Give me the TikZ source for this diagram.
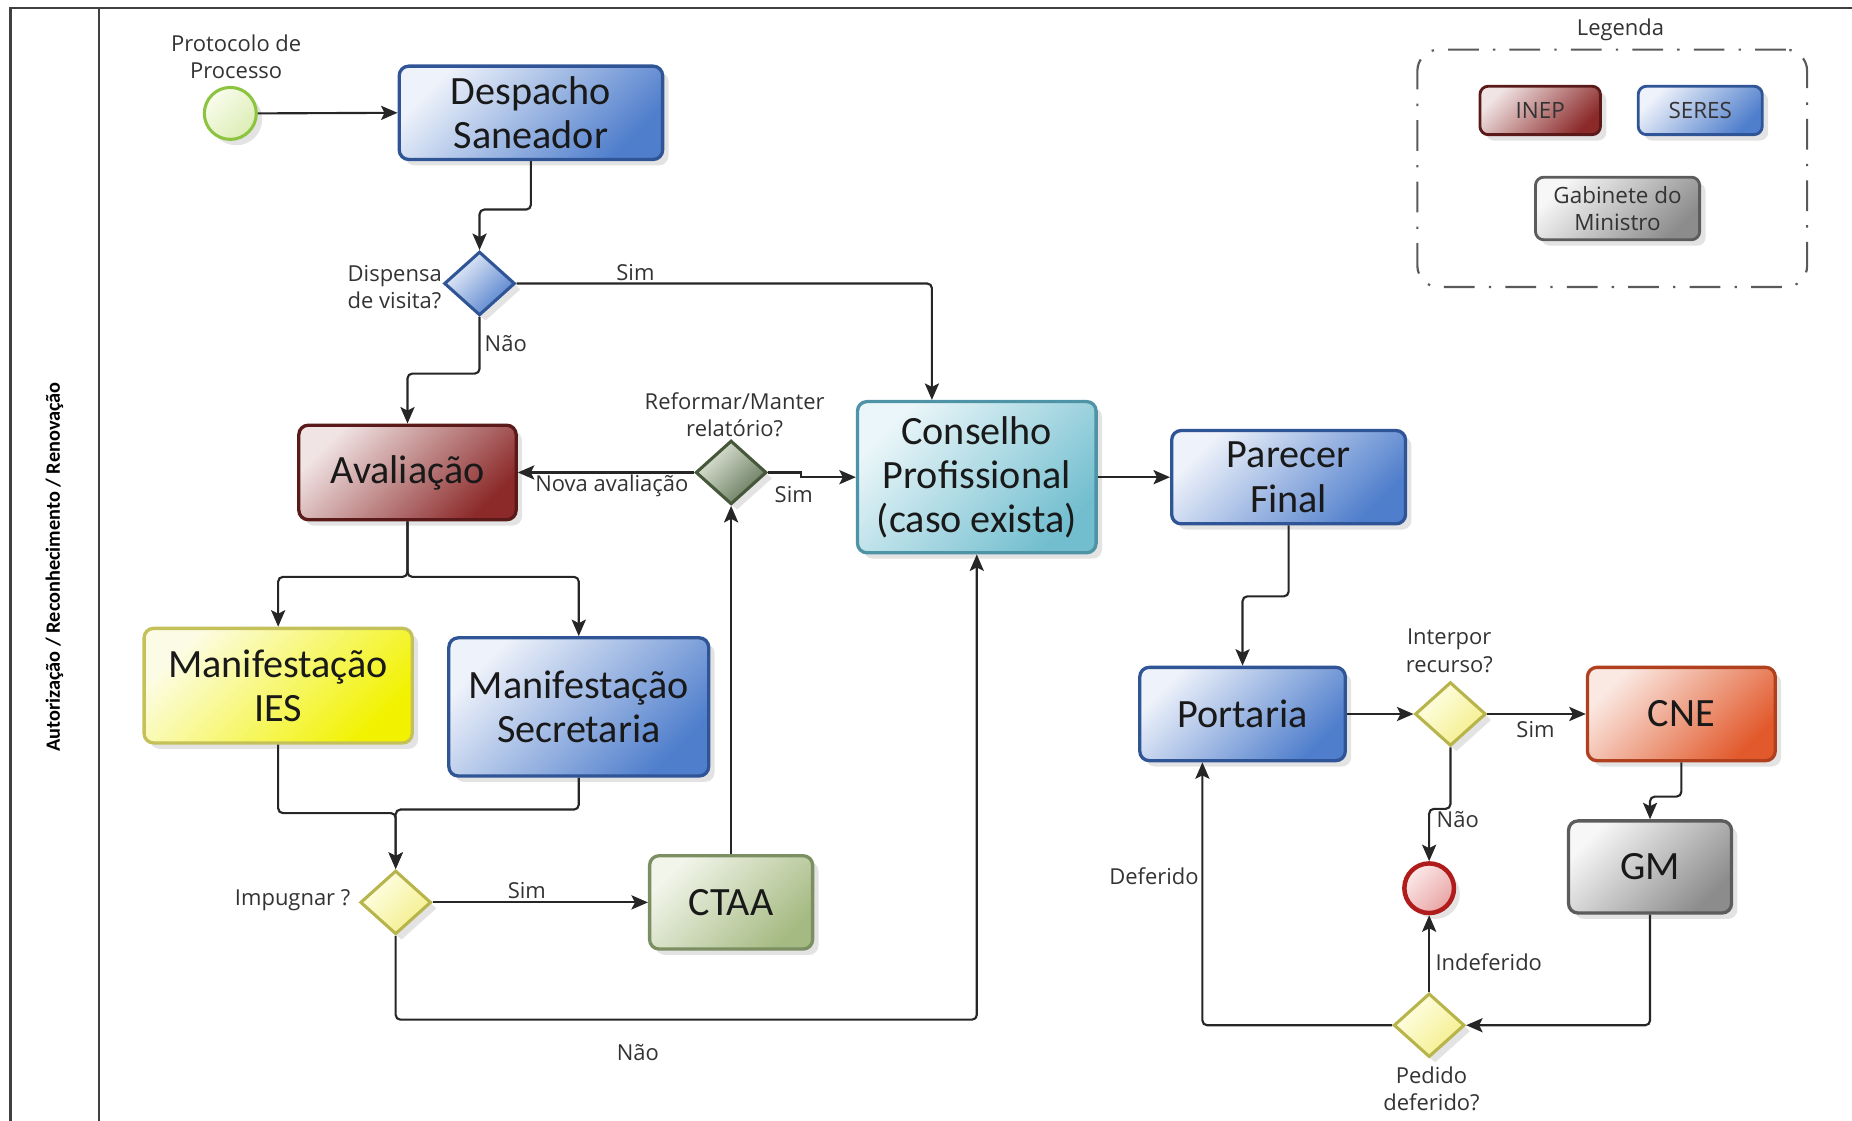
\documentclass[tikz,border=0pt]{standalone}
\usepackage{fontspec}
\setmainfont{Carlito}
\newfontfamily\lblfam{Open Sans}
\newfontfamily\boxfam{Carlito}
\usetikzlibrary{shapes.geometric, arrows.meta, shadows, calc}
\definecolor{blueL}{HTML}{EEF2FA}\definecolor{blueD}{HTML}{4F7ECC}\definecolor{blueB}{HTML}{2F5597}
\definecolor{redL}{HTML}{F1E4E4}\definecolor{redD}{HTML}{8C2A2A}\definecolor{redB}{HTML}{5A1A1A}
\definecolor{yelL}{HTML}{FCFCE6}\definecolor{yelD}{HTML}{F2F200}\definecolor{yelB}{HTML}{C4C05A}
\definecolor{cyL}{HTML}{EAF6F9}\definecolor{cyD}{HTML}{72BECF}\definecolor{cyB}{HTML}{4E93A6}
\definecolor{grL}{HTML}{F2F5EA}\definecolor{grD}{HTML}{A5BA82}\definecolor{grB}{HTML}{7B8F62}
\definecolor{orL}{HTML}{FAE9E3}\definecolor{orD}{HTML}{E2592B}\definecolor{orB}{HTML}{B0401E}
\definecolor{gyL}{HTML}{F7F7F7}\definecolor{gyD}{HTML}{8C8C8C}\definecolor{gyB}{HTML}{5C5C5C}
\definecolor{dgL}{HTML}{E4E9DC}\definecolor{dgD}{HTML}{62765A}\definecolor{dgB}{HTML}{46573A}
\definecolor{dyL}{HTML}{FFFFE8}\definecolor{dyD}{HTML}{F3EE8A}\definecolor{dyB}{HTML}{B8B44C}
\definecolor{stL}{HTML}{F9FCEC}\definecolor{stD}{HTML}{DCEDB5}\definecolor{stB}{HTML}{8CC43F}
\definecolor{enL}{HTML}{FCEAEA}\definecolor{enD}{HTML}{E9A3A3}\definecolor{enB}{HTML}{B01C1C}
\definecolor{txt}{HTML}{333333}
\newcommand\boxfont{\boxfam\fontsize{17}{18.7}\selectfont}
\newcommand\lblfont{\lblfam\fontsize{9.3}{11.5}\selectfont}
\newcommand\legfont{\lblfam\fontsize{9.5}{11.5}\selectfont}
\tikzset{
  shad/.style={drop shadow={opacity=0.22, shadow xshift=2.5pt, shadow yshift=-2.5pt}},
  box/.style={rectangle, rounded corners=4pt, line width=1.4pt, align=center, font=\boxfont, text=black!90, inner sep=2pt, shad},
  bluebox/.style={box, top color=blueL, bottom color=blueD, shading angle=45, draw=blueB},
  redbox/.style={box, top color=redL, bottom color=redD, shading angle=45, draw=redB},
  yelbox/.style={box, top color=yelL, bottom color=yelD, shading angle=45, draw=yelB},
  cybox/.style={box, top color=cyL, bottom color=cyD, shading angle=45, draw=cyB},
  grbox/.style={box, top color=grL, bottom color=grD, shading angle=45, draw=grB},
  orbox/.style={box, top color=orL, bottom color=orD, shading angle=45, draw=orB},
  gybox/.style={box, top color=gyL, bottom color=gyD, shading angle=45, draw=gyB},
  gate/.style={diamond, minimum width=30pt, minimum height=27pt, inner sep=0pt, line width=1.3pt, shad},
  bluegate/.style={gate, top color=blueL, bottom color=blueD, shading angle=45, draw=blueB},
  dggate/.style={gate, top color=dgL, bottom color=dgD, shading angle=45, draw=dgB},
  yelgate/.style={gate, top color=dyL, bottom color=dyD, shading angle=45, draw=dyB},
  lbl/.style={font=\lblfont, text=txt, inner sep=1pt, align=center},
  conn/.style={line width=0.9pt, draw=black!85, rounded corners=2pt, -{Stealth[length=7pt, width=6pt, inset=1.5pt]}},
  sharp/.style={sharp corners},
  legbox/.style={font=\legfont, text=txt, inner sep=1pt, rounded corners=3.5pt, line width=1.2pt, align=center, shad},
}
\begin{document}
\begin{tikzpicture}[x=0.5pt, y=-0.5pt]
\useasboundingbox (0,0) rectangle (1568,949);
% frame
\draw[line width=1pt, black!75] (9,949) -- (9,7) -- (1568,7);
\draw[line width=1pt, black!75] (84,7) -- (84,949);
\node[rotate=90, font=\boxfam\bfseries\fontsize{8.6}{10}\selectfont, text=black] (lane) at (46,480) {Autorização / Reconhecimento / Renovação};

% legend
\node[lbl] (legT) at (1372,25) {Legenda};
\node[draw=black!65, line width=0.9pt, rounded corners=9pt, dash pattern=on 13pt off 6pt on 1pt off 6pt, minimum width=165pt, minimum height=100.5pt] (legB) at (1365,142.5) {};
\node[legbox, top color=redL, bottom color=redD, shading angle=45, draw=redB, minimum width=51pt, minimum height=20.5pt] (legI) at (1304,93.5) {INEP};
\node[legbox, top color=blueL, bottom color=blueD, shading angle=45, draw=blueB, minimum width=52.5pt, minimum height=20.5pt] (legS) at (1439.5,93.5) {SERES};
\node[legbox, top color=gyL, bottom color=gyD, shading angle=45, draw=gyB, minimum width=69.5pt, minimum height=26.5pt] (legG) at (1369.5,176.5) {Gabinete do\\Ministro};

% nodes
\node[circle, minimum size=22pt, inner sep=0pt, line width=1.3pt, top color=stL, bottom color=stD, shading angle=45, draw=stB, shad] (s) at (195,96) {};
\node[lbl] (sL) at (200,48) {Protocolo de\\Processo};
\node[bluebox, minimum width=111.5pt, minimum height=39.5pt] (D) at (449.5,95.5) {Despacho\\Saneador};
\node[bluegate] (d1) at (406,240) {};
\node[lbl, anchor=west, align=left] (d1L) at (292,243) {Dispensa\\de visita?};
\node[redbox, minimum width=92pt, minimum height=40pt] (A) at (345,400) {Avaliação};
\node[dggate] (d2) at (619,400) {};
\node[lbl] (d2L) at (622,351) {Reformar/Manter\\relatório?};
\node[cybox, minimum width=101pt, minimum height=64pt] (C) at (827,404) {Conselho\\Profissional\\(caso exista)};
\node[bluebox, minimum width=99pt, minimum height=39.5pt] (P) at (1091,404) {Parecer\\Final};
\node[bluebox, minimum width=87pt, minimum height=39.5pt] (Po) at (1052,604.5) {Portaria};
\node[yelgate] (d3) at (1228,604.5) {};
\node[lbl] (d3L) at (1227,551) {Interpor\\recurso?};
\node[orbox, minimum width=79.5pt, minimum height=39.5pt] (CNE) at (1423.5,604.5) {CNE};
\node[gybox, minimum width=69pt, minimum height=39pt] (GM) at (1397,734) {GM};
\node[circle, minimum size=21pt, inner sep=0pt, line width=1.9pt, top color=enL, bottom color=enD, shading angle=45, draw=enB, shad] (E) at (1210,752) {};
\node[yelgate] (d4) at (1210,868) {};
\node[lbl] (d4L) at (1212,922) {Pedido\\deferido?};
\node[yelbox, minimum width=113.5pt, minimum height=48.5pt] (IES) at (235.5,580.5) {Manifestação\\IES};
\node[bluebox, minimum width=110pt, minimum height=58.5pt] (Sec) at (490,598.5) {Manifestação\\Secretaria};
\node[yelgate] (d5) at (335,764) {};
\node[lbl, anchor=east] (d5L) at (299,762) {Impugnar ?};
\node[grbox, minimum width=69pt, minimum height=39.5pt] (CT) at (619,764) {CTAA};

% connectors
\draw[conn] (s.east) -- (D.west);
\draw[conn] (D.south) -- ++(0,41) -| (d1.north);
\draw[conn] (d1.east) -| ($(C.north)+(-38,0)$);
\node[lbl] (l1) at (538,231) {Sim};
\draw[conn] (d1.south) -- ++(0,48) -| (A.north);
\node[lbl, anchor=west] (l2) at (408,291) {Não};
\draw[conn] (d2.west) -- (A.east);
\node[lbl] (l3) at (518,411) {Nova avaliação};
\draw[conn, sharp] (d2.east) -- ++(28,0) |- (C.west);
\node[lbl] (l4) at (672,419) {Sim};
\draw[conn] (C.east) -- (P.west);
\draw[conn] (P.south) -- ++(0,60) -| (Po.north);
\draw[conn] (Po.east) -- (d3.west);
\draw[conn] (d3.east) -- (CNE.west);
\node[lbl] (l5) at (1300,618) {Sim};
\draw[conn] (CNE.south) -- ++(0,29) -| (GM.north);
\draw[conn] (d3.south) -- ++(0,52) -| (E.north);
\node[lbl, anchor=west] (l6) at (1214,694) {Não};
\draw[conn] (GM.south) |- (d4.east);
\draw[conn] (d4.north) -- (E.south);
\node[lbl, anchor=west] (l7) at (1213,815) {Indeferido};
\draw[conn] (d4.west) -| ($(Po.south)+(-34,0)$);
\node[lbl] (l8) at (977,742) {Deferido};
\draw[conn] (A.south) -- ++(0,47) -| (IES.north);
\draw[conn] (A.south) -- ++(0,47) -| (Sec.north);
\draw[conn] (IES.south) -- ++(0,58) -| (d5.north);
\draw[conn] (Sec.south) -- ++(0,27) -| (d5.north);
\draw[conn] (d5.east) -- (CT.west);
\node[lbl] (l9) at (446,754) {Sim};
\draw[conn] (CT.north) -- (d2.south);
\draw[conn] (d5.south) -- ++(0,71) -| (C.south);
\node[lbl] (l10) at (540,891) {Não};
\end{tikzpicture}
\end{document}
